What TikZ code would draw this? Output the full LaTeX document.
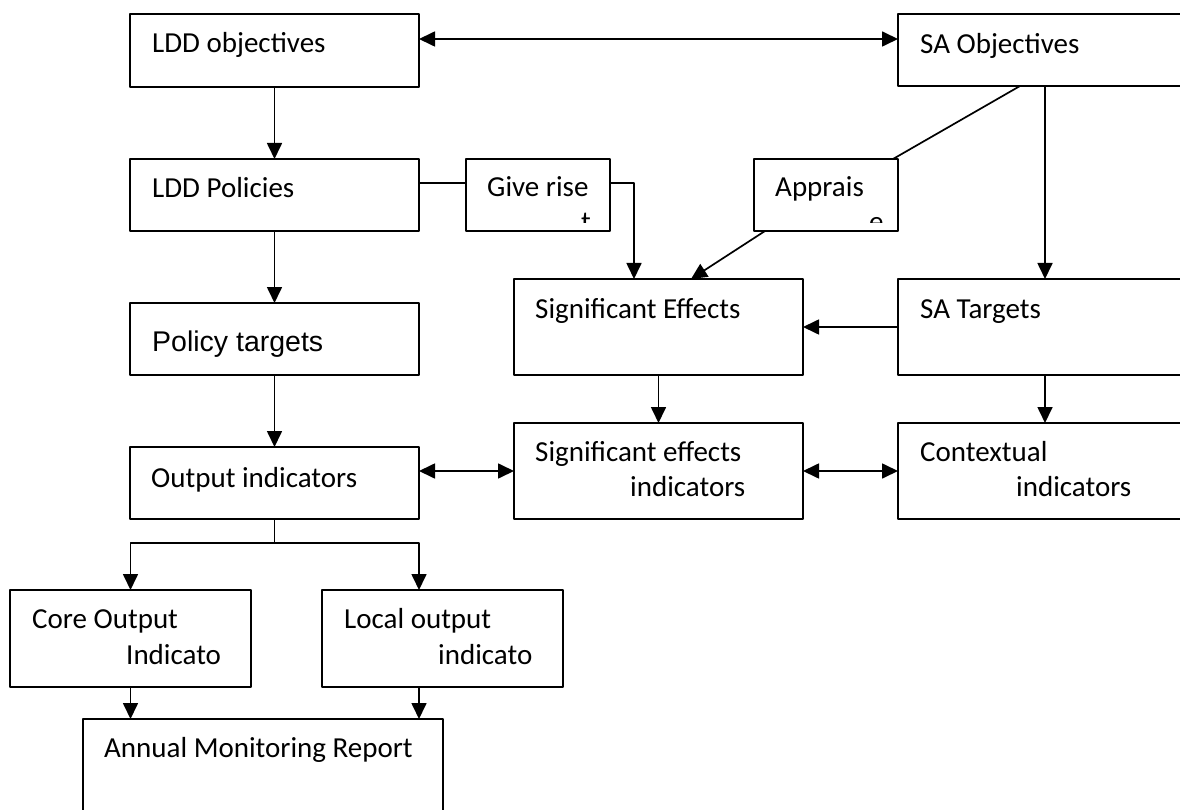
\documentclass[tikz,border=0pt]{standalone}
\usepackage{fontspec}
\setmainfont{Carlito}
\newfontfamily\arialfont{Liberation Sans}
\usetikzlibrary{arrows.meta}

\begin{document}
\begin{tikzpicture}[x=1pt, y=-1pt, line join=round, >={Triangle[length=16pt,width=15pt]},
		box/.style={draw, line width=1.8pt, rectangle, anchor=north west, inner sep=0pt, outer sep=0pt},
		txt/.style={anchor=base west, inner sep=0pt, font=\fontsize{29}{35}\selectfont},
		link/.style={line width=1.7pt}]
	\useasboundingbox (0,0) rectangle (1180,810);
	\clip (0,0) rectangle (1180,810);
	% boxes, left column
	\node[box, minimum width=289pt, minimum height=73pt] (lddobj) at (130,14) {};
	\node[box, minimum width=289pt, minimum height=72pt] (lddpol) at (130,159) {};
	\node[box, minimum width=289pt, minimum height=72pt] (poltgt) at (130,303) {};
	\node[box, minimum width=289pt, minimum height=72pt] (outind) at (130,447) {};
	\node[box, minimum width=241pt, minimum height=97pt] (coreout) at (10,590) {};
	\node[box, minimum width=241pt, minimum height=97pt] (localout) at (322,590) {};
	\node[box, minimum width=360pt, minimum height=130pt] (amr) at (83,719) {};
	% boxes, middle and right
	\node[box, minimum width=144pt, minimum height=72pt] (giverise) at (466,159) {};
	\node[box, minimum width=144pt, minimum height=72pt] (apprais) at (754,159) {};
	\node[box, minimum width=289pt, minimum height=96pt] (sigeff) at (514,279) {};
	\node[box, minimum width=289pt, minimum height=96pt] (sigind) at (514,423) {};
	\node[box, minimum width=310pt, minimum height=72pt] (saobj) at (898,14) {};
	\node[box, minimum width=310pt, minimum height=96pt] (satgt) at (898,279) {};
	\node[box, minimum width=310pt, minimum height=96pt] (context) at (898,423) {};
	% texts
	\node[txt] (lddobj-t) at (152,53) {LDD objectives};
	\node[txt] (lddpol-t) at (152,198) {LDD Policies};
	\node[txt, font=\arialfont\fontsize{28.5}{34}\selectfont] (poltgt-t) at (152,351) {Policy targets};
	\node[txt] (outind-t) at (151,487) {Output indicators};
	\node[txt] (coreout-t) at (32,628) {Core Output};
	\node[txt] (coreout-u) at (126,664) {Indicato};
	\node[txt] (localout-t) at (344,628) {Local output};
	\node[txt] (localout-u) at (438,664) {indicato};
	\node[txt] (amr-t) at (104,757) {Annual Monitoring Report};
	\node[txt] (giverise-t) at (487,197) {Give rise};
	\node[txt] (apprais-t) at (775,197) {Apprais};
	\node[txt] (sigeff-t) at (535,318) {Significant Effects};
	\node[txt] (sigind-t) at (535,461) {Significant effects};
	\node[txt] (sigind-u) at (630,496) {indicators};
	\node[txt] (saobj-t) at (920,54) {SA Objectives};
	\node[txt] (satgt-t) at (920,318) {SA Targets};
	\node[txt] (context-t) at (920,461) {Contextual};
	\node[txt] (context-u) at (1016,496) {indicators};
	% second lines cut off by the box
	\begin{scope}
		\clip (giverise.north west) rectangle ([yshift=8pt]giverise.south east);
		\node[txt] (giverise-u) at (581,232) {t};
	\end{scope}
	\begin{scope}
		\clip (apprais.north west) rectangle ([yshift=8pt]apprais.south east);
		\node[txt] (apprais-u) at (869,232) {e};
	\end{scope}
	% connectors
	\draw[link,<->] ([yshift=11.5pt]lddobj.east) coordinate (top) -- (top -| saobj.west);
	\draw[link,->] (lddobj.south) -- (lddpol.north);
	\draw[link,->] (lddpol.south) -- (poltgt.north);
	\draw[link,->] (poltgt.south) -- (outind.north);
	\draw[link] ([yshift=12pt]lddpol.east) -- ([yshift=12pt]giverise.west);
	\draw[link,->] ([yshift=12pt]giverise.east) -| ([xshift=120pt]sigeff.north west);
	\draw[link] ([xshift=122pt]saobj.south west) -- ([xshift=-5pt]apprais.north east);
	\draw[link,->] ([xshift=11pt]apprais.south west) -- ([xshift=177pt]sigeff.north west);
	\draw[link,->] ([xshift=147pt]saobj.south west) -- ([xshift=147pt]satgt.north west);
	\draw[link,->] (satgt.west) -- (sigeff.east);
	\draw[link,->] (sigeff.south) -- (sigind.north);
	\draw[link,->] ([xshift=147pt]satgt.south west) -- ([xshift=147pt]context.north west);
	\draw[link,<->] ([yshift=12pt]outind.east) -- (sigind.west);
	\draw[link,<->] (sigind.east) -- (context.west);
	\draw[link] (outind.south) -- ++(0,24) coordinate (fork);
	\draw[link,->] (fork) -| (coreout.north);
	\draw[link,->] (fork) -| ([xshift=97pt]localout.north west);
	\draw[link,->] (coreout.south) -- (coreout.south |- amr.north);
	\draw[link,->] ([xshift=97pt]localout.south west) coordinate (lo) -- (lo |- amr.north);
\end{tikzpicture}
\end{document}
